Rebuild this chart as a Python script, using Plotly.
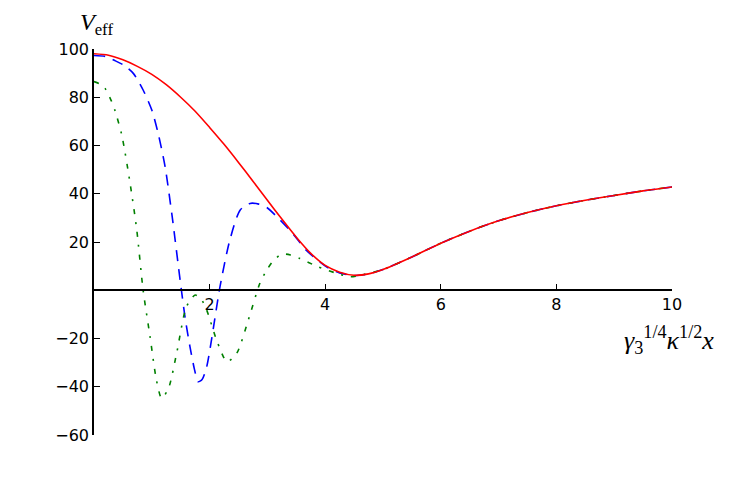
import plotly.graph_objects as go

# Red solid curve
x_red = [0, 0.25, 0.5, 0.75, 1.0, 1.25, 1.5, 1.75, 2.0, 2.25, 2.5, 2.75, 3.0, 3.25, 3.5, 3.75,
         4.0, 4.25, 4.5, 4.75, 5.0, 5.5, 6.0, 6.5, 7.0, 7.5, 8.0, 8.5, 9.0, 9.5, 10]
y_red = [98, 97.4, 95.5, 92.8, 89.5, 85.2, 80, 74.2, 67.5, 60.5, 53, 45.2, 37.3, 29.5, 22, 15.3,
         10.3, 7.5, 6.2, 6.8, 8.6, 13.8, 19.5, 24.5, 28.8, 32.2, 35.0, 37.3, 39.3, 41.2, 42.8]

# Blue dashed curve
x_blue = [0, 0.2, 0.36, 0.52, 0.68, 0.85, 1.0, 1.11, 1.23, 1.35, 1.49, 1.58, 1.66, 1.74, 1.8, 1.87,
          1.95, 2.05, 2.18, 2.35, 2.53, 2.7, 2.85, 2.99, 3.22, 3.45, 3.68, 4.03, 4.25, 4.5,
          4.75, 5.0, 5.5, 6.0, 6.5, 7.0, 7.5, 8.0, 8.5, 9.0, 9.5, 10]
y_blue = [97.3, 96.9, 95.2, 93.2, 89.9, 83, 74.7, 65, 51.2, 31, 4.2, -12, -23.4, -33, -37.9, -37,
          -31.7, -18, 1.5, 20.8, 33.3, 36, 35.7, 34.3, 29.1, 23.2, 16.4, 9.6, 7.2, 6.1,
          6.8, 8.6, 13.8, 19.5, 24.5, 28.8, 32.2, 35.0, 37.3, 39.3, 41.2, 42.8]

# Green dash-dot curve
x_green = [0, 0.1, 0.19, 0.3, 0.36, 0.48, 0.62, 0.74, 0.85, 0.97, 1.08, 1.17, 1.29, 1.43, 1.6,
           1.75, 1.85, 1.95, 2.12, 2.3, 2.47, 2.67, 2.87, 2.99, 3.1, 3.25, 3.4, 3.56, 3.85, 4.2,
           4.43, 4.66, 5.0, 5.5, 6.0, 6.5, 7.0, 7.5, 8.0, 8.5, 9.0, 9.5, 10]
y_green = [86.5, 85.5, 83.7, 78.5, 74.7, 64.4, 45, 25, 0, -19.3, -37.2, -44.8, -40.6, -26.1, -6.8,
           -2, -3.5, -8.2, -20.6, -29.6, -26.1, -12.3, 2.9, 8.4, 12.2, 15, 14.6, 13.2, 10, 7,
           5.6, 6.5, 8.6, 13.8, 19.5, 24.5, 28.8, 32.2, 35.0, 37.3, 39.3, 41.2, 42.8]

x_ticks = [2, 4, 6, 8, 10]
y_ticks = [-60, -40, -20, 20, 40, 60, 80, 100]

fig = go.Figure()
fig.add_trace(go.Scatter(x=x_blue, y=y_blue, mode="lines",
                         line=dict(color="#0000ff", width=1.6, dash="11px,8px", shape="spline", smoothing=0.7)))
fig.add_trace(go.Scatter(x=x_green, y=y_green, mode="lines",
                         line=dict(color="#008000", width=1.6, dash="5px,8px,2px,8px", shape="spline", smoothing=0.7)))
fig.add_trace(go.Scatter(x=x_red, y=y_red, mode="lines",
                         line=dict(color="#ff0000", width=1.6, shape="spline", smoothing=0.7)))

tickfont = dict(family="DejaVu Sans", size=16, color="black")
fig.update_layout(
    width=747, height=498,
    margin=dict(l=86, r=83, t=41, b=71),
    paper_bgcolor="white", plot_bgcolor="white",
    showlegend=False,
    xaxis=dict(range=[0, 10], anchor="free", position=0.375, tickvals=x_ticks,
               ticks="inside", ticklen=6, tickwidth=1, tickcolor="black",
               showline=True, linecolor="black", linewidth=1.5,
               showgrid=False, zeroline=False, tickfont=tickfont),
    yaxis=dict(range=[-60, 100], tickvals=y_ticks, ticks="inside", ticklen=6, tickwidth=1,
               tickcolor="black", showline=True, linecolor="black", linewidth=1.5,
               showgrid=False, zeroline=False, tickfont=tickfont),
)
fig.add_annotation(xref="paper", yref="paper", x=0.005, y=1.065, xanchor="center", yanchor="middle",
                   text="<i>V</i><sub>eff</sub>", showarrow=False,
                   font=dict(family="Liberation Serif", size=24, color="black"))
fig.add_annotation(xref="paper", yref="paper", x=0.995, y=0.246, xanchor="center", yanchor="middle",
                   text="<i>γ</i><sub>3</sub><sup>1/4</sup><i>κ</i><sup>1/2</sup><i>x</i>", showarrow=False,
                   font=dict(family="Liberation Serif", size=26, color="black"))
fig.write_html("out.html")
